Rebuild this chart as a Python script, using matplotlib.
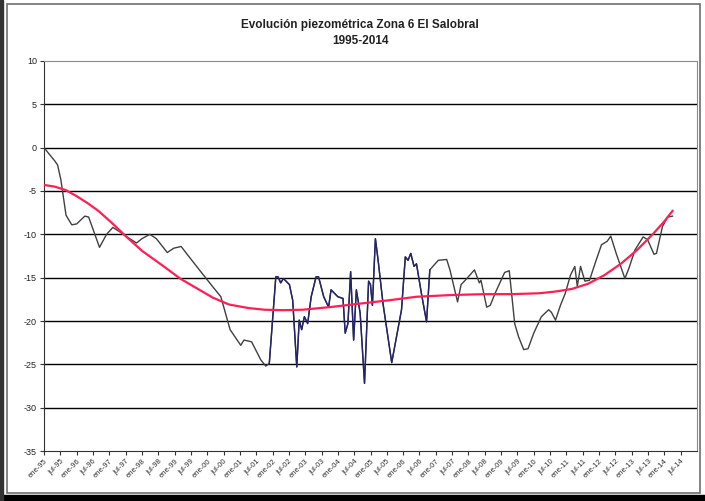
import numpy as np
import matplotlib
matplotlib.use("Agg")
import matplotlib.pyplot as plt
from matplotlib.patches import Rectangle

plt.rcParams['font.family'] = ['Liberation Sans', 'DejaVu Sans']

# months since ene-95 and level (m)
months = [0, 4, 5, 6.2, 8.1, 10.2, 12, 15, 16.4, 20.4, 23, 25.3, 27.8, 30.5, 34, 36,
          38.9, 41.3, 45.3, 47.7, 50.4, 52.6, 57.6, 61.9, 65, 68.4, 72.3, 73.5, 76.3,
          79.7, 81.5, 82.8, 85.2, 86, 87, 88, 90.2, 91.4, 92.9, 93.8, 94.7, 95.7, 96.9,
          98.2, 100, 100.9, 102.8, 104.6, 105.5, 108, 109.9, 110.7, 111.7, 112.7, 113.8,
          114.8, 116.2, 117.8, 119.3, 120, 120.7, 121.8, 122.8, 124.6, 127.8, 131.4,
          132.8, 133.8, 134.8, 136, 136.9, 138.7, 140.6, 141.8, 144.9, 148, 149.2, 152,
          153.3, 155.4, 158.2, 159.4, 160, 160.6, 162.7, 164, 165.8, 169.3, 171, 173,
          174.4, 176.3, 177.9, 180, 182.8, 185.5, 186.5, 188, 189.8, 191.6, 193.5,
          195.1, 196, 197.2, 198.8, 200.5, 202.7, 204.9, 207, 208.3, 210.3, 213.5, 215,
          217.2, 220.2, 221.8, 224.2, 225.1, 227.3, 229.2, 231]
levels = [0, -1.55, -2, -3.7, -7.8, -8.9, -8.8, -7.9, -8, -11.5, -10, -9.2, -9.7, -10.3,
          -11, -10.5, -10, -10.5, -12.1, -11.6, -11.4, -12.3, -14.3, -16, -17.2, -21,
          -22.8, -22.2, -22.4, -24.5, -25.2, -24.9, -14.9, -14.9, -15.6, -15.1, -15.8,
          -17.6, -25.3, -19.9, -21, -19.5, -20.3, -17.2, -14.9, -14.9, -17.2, -18.4,
          -16.4, -17.2, -17.4, -21.4, -20.3, -14.3, -22.2, -16.4, -19.1, -27.2, -15.4,
          -15.8, -18.2, -10.5, -13, -18, -24.8, -18.7, -12.6, -13, -12.2, -13.7, -13.4,
          -16.8, -20.1, -14.1, -13, -12.9, -14.1, -17.8, -15.8, -15.1, -14.1, -15.1,
          -15.6, -15.3, -18.4, -18.2, -16.8, -14.4, -14.2, -20.3, -21.8, -23.3, -23.2,
          -21.4, -19.5, -18.7, -19, -19.9, -18.2, -16.8, -14.7, -13.7, -16, -13.7, -15.4,
          -15.3, -13.2, -11.2, -10.8, -10.2, -12.2, -15.1, -13.9, -11.8, -10.3, -10.6,
          -12.3, -12.2, -9.1, -8.0, -7.9]

# trend line
trend_months = [0, 4, 8, 12, 16, 20, 25, 30, 36, 44, 50, 56, 62, 68, 75, 81, 88, 95,
                105, 116, 127, 137, 150, 162, 172, 182, 188, 194, 200, 206, 212, 218,
                224, 228, 231]
trend_levels = [-4.3, -4.5, -4.9, -5.6, -6.4, -7.3, -8.7, -10.2, -11.9, -13.7, -15.1,
                -16.2, -17.3, -18.1, -18.5, -18.7, -18.75, -18.7, -18.4, -18.0, -17.6,
                -17.2, -17.0, -16.9, -16.9, -16.8, -16.6, -16.3, -15.7, -14.7, -13.4,
                -11.8, -9.9, -8.5, -7.3]

years = list(range(95, 100)) + list(range(0, 15))
tick_labels = []
for yy in years:
    tick_labels.append("ene-%02d" % yy)
    tick_labels.append("jul-%02d" % yy)

fig = plt.figure(figsize=(7.05, 5.01), dpi=100)

# chart borders
fig.patches.append(Rectangle((0.010, 0.016), 0.983, 0.976, transform=fig.transFigure,
                             fill=False, edgecolor='#6e6e6e', lw=1.2))
fig.patches.append(Rectangle((0.0, 0.0), 1.0, 0.012, transform=fig.transFigure,
                             color='black'))
fig.patches.append(Rectangle((0.0, 0.0), 0.004, 1.0, transform=fig.transFigure,
                             color='#333333'))

ax = fig.add_axes([44 / 705, 1 - 451 / 501, (697 - 44) / 705, (451 - 61) / 501])

m = np.array(months)
v = np.array(levels)
ax.plot(m, v, color='#404040', lw=1.0, zorder=3)
seg = (m >= 82.8) & (m <= 141.8)
ax.plot(m[seg], v[seg], color='#23236e', lw=1.0, zorder=3)
ax.plot(trend_months, trend_levels, color='#ff1f55', lw=1.6, zorder=4)

ax.set_xlim(0, 240)
ax.set_ylim(-35, 10)
ax.set_yticks(range(-35, 11, 5))
ax.set_yticklabels([str(t) for t in range(-35, 11, 5)], fontsize=6.5, color='#222222')
ax.set_xticks(range(0, 240, 6))
ax.set_xticklabels(tick_labels, rotation=45, ha='right', rotation_mode='anchor',
                   fontsize=5.5, color='#333333')
ax.tick_params(axis='both', direction='out', length=3, width=0.8, color='#333333', pad=2)

for g in range(-30, 10, 5):
    ax.axhline(g, color='black', lw=1.0, zorder=1)

ax.spines['left'].set_color('#333333')
ax.spines['bottom'].set_color('#333333')
ax.spines['top'].set_color('#8c8c8c')
ax.spines['right'].set_color('#8c8c8c')

fig.text(0.511, 1 - 25 / 501, "Evolución piezométrica Zona 6 El Salobral",
         ha='center', va='center', fontsize=8.5, fontweight='bold', color='#222222')
fig.text(0.511, 1 - 41 / 501, "1995-2014", ha='center', va='center',
         fontsize=8.5, fontweight='bold', color='#222222')

fig.savefig("out.png", dpi=100)
